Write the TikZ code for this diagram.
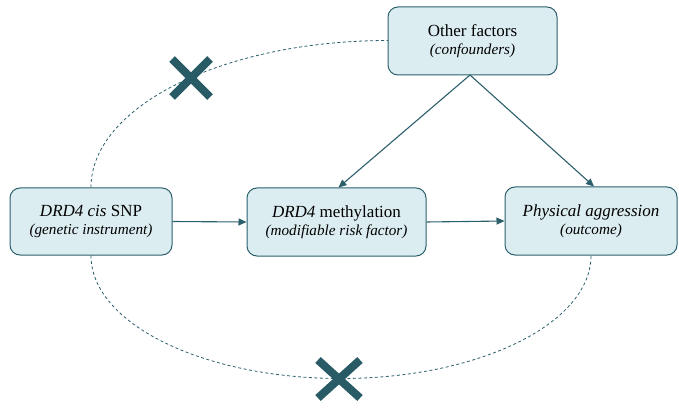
\documentclass[tikz,border=0pt]{standalone}
\usepackage{fontspec}
\setmainfont{Liberation Serif}
\usetikzlibrary{arrows.meta}
\definecolor{teal}{HTML}{2B5F6B}
\definecolor{boxfill}{HTML}{DCEDF2}
\definecolor{crossc}{HTML}{285B66}
\tikzset{
  factor/.style={draw=teal, fill=boxfill, line width=1pt, rounded corners=10pt, align=center, inner sep=0pt,
    font=\fontsize{17}{18}\selectfont},
  link/.style={draw=teal, line width=1.1pt, -{Triangle[length=8pt,width=7pt]}},
  dashlink/.style={draw=teal, line width=0.8pt, dash pattern=on 3pt off 2.5pt},
  crossmark/.style={draw=crossc, line width=8pt}
}
\newcommand{\subline}[1]{{\fontsize{15.2}{18}\selectfont\textit{#1}}}
\begin{document}
\begin{tikzpicture}[x=1pt,y=1pt]
\useasboundingbox (0,0) rectangle (679,410);
\node[factor, minimum width=169pt, minimum height=68pt] (other) at (472.5,369) {Other factors\\[-0.5pt]\subline{(confounders)}};
\node[factor, minimum width=162pt, minimum height=67pt] (snp) at (91,188.5) {\textit{DRD4 cis} SNP\\[-0.5pt]\subline{(genetic instrument)}};
\node[factor, minimum width=179pt, minimum height=68pt] (meth) at (336.5,188) {\textit{DRD4} methylation\\[-0.5pt]\subline{(modifiable risk factor)}};
\node[factor, minimum width=172pt, minimum height=68pt] (agg) at (591,189) {\textit{Physical aggression}\\[-0.5pt]\subline{(outcome)}};
\coordinate (src) at (470,335);
\draw[link] (snp.east) -- (meth.west);
\draw[link] (meth.east) -- (agg.west);
\draw[link] (src) -- ([xshift=2pt]meth.north);
\draw[link] (src) -- ([xshift=3pt]agg.north);
\draw[dashlink] (snp.north) arc[start angle=180, end angle=90, x radius=297, y radius=147];
\draw[dashlink] (snp.south) arc[start angle=180, end angle=360, x radius=250, y radius=123];
\coordinate (c1) at (191,332);
\coordinate (c2) at (339,31);
\draw[crossmark] ([shift={(-19,-19)}]c1) -- ([shift={(19,19)}]c1);
\draw[crossmark] ([shift={(-19,19)}]c1) -- ([shift={(19,-19)}]c1);
\draw[crossmark] ([shift={(-21,-19)}]c2) -- ([shift={(21,19)}]c2);
\draw[crossmark] ([shift={(-21,19)}]c2) -- ([shift={(21,-19)}]c2);
\end{tikzpicture}
\end{document}
